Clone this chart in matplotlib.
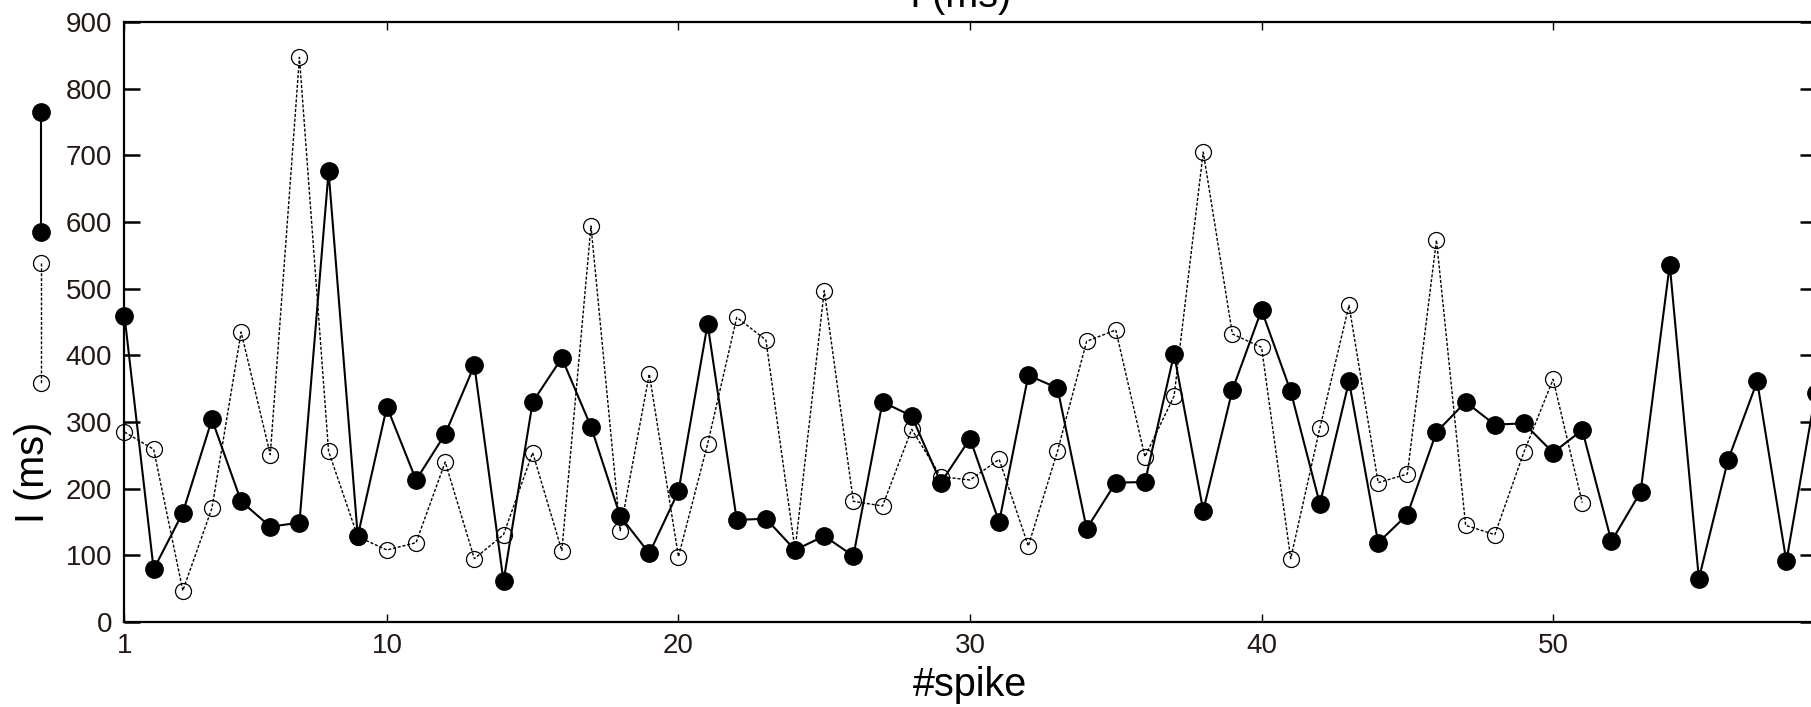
#!/usr/bin/env python3
"""Interspike intervals I (ms) vs spike index: two trains, filled/solid and open/dotted."""
import matplotlib
matplotlib.use("Agg")
import matplotlib.pyplot as plt
from matplotlib.lines import Line2D

plt.rcParams["font.family"] = ["Liberation Sans", "DejaVu Sans"]

# values
spike_a = list(range(1, 60))
isi_a = [459, 79, 164, 304, 181, 143, 149, 676, 129, 323, 213, 282, 385, 61, 330,
         396, 293, 159, 103, 196, 447, 153, 155, 108, 129, 99, 330, 309, 209, 275,
         150, 370, 351, 140, 209, 210, 402, 167, 348, 468, 346, 177, 361, 119, 161,
         285, 330, 296, 298, 254, 288, 121, 195, 536, 65, 243, 361, 91, 343]
spike_b = list(range(1, 52))
isi_b = [285, 259, 47, 171, 435, 251, 847, 256, 128, 108, 119, 240, 95, 131, 254,
         107, 594, 137, 372, 98, 267, 457, 423, 108, 497, 181, 174, 289, 218, 213,
         244, 114, 256, 421, 438, 248, 339, 705, 432, 412, 95, 291, 475, 209, 222,
         573, 145, 131, 255, 364, 179]
xticks = [1, 10, 20, 30, 40, 50]
yticks = list(range(0, 901, 100))

W, H = 1811, 707
fig = plt.figure(figsize=(W / 100, H / 100), dpi=100)
# axes spans 124.5..1815.5 px (right spine sits just past the image edge)
ax = fig.add_axes([124.5 / W, 85 / H, 1691 / W, 600 / H])

style_a = dict(color="black", lw=1.5, marker="o", ms=12.5, mfc="black", mec="black")
style_b = dict(color="black", lw=1.0, ls=(0, (2.2, 1.3)), marker="o", ms=11.5,
               mfc="none", mec="black", mew=0.9)
ax.plot(spike_a, isi_a, clip_on=False, zorder=3, **style_a)
ax.plot(spike_b, isi_b, clip_on=False, zorder=4, **style_b)

ax.set_xlim(1, 59)
ax.set_ylim(0, 900)
ax.set_xticks(xticks)
ax.set_yticks(yticks)
for s in ax.spines.values():
    s.set_linewidth(1.6)
ax.tick_params(axis="both", direction="in", labelsize=20, labelcolor="#231815")
ax.tick_params(axis="y", length=11.5, width=1.8, pad=9, left=True, right=True)
ax.tick_params(axis="x", length=5.5, width=1.0, pad=8, top=True, bottom=True)
ax.set_xlabel("#spike", fontsize=28.5, labelpad=5)

# y label sits lower than axes centre, title is cut off by the top edge (as in the source)
fig.text(33 / W, 1 - 472 / H, "I (ms)", rotation=90, ha="center", va="center", fontsize=28.5)
fig.text(961 / W, 1 - 7 / H, "I (ms)", ha="center", va="baseline", fontsize=28.5)

# vertical legend glyphs at the far left
fig.add_artist(Line2D([40.5 / W] * 2, [1 - 111.5 / H, 1 - 231.5 / H],
                      transform=fig.transFigure, **style_a))
fig.add_artist(Line2D([40.5 / W] * 2, [1 - 262.7 / H, 1 - 383 / H],
                      transform=fig.transFigure, **style_b))

fig.savefig("out.png", dpi=100)
